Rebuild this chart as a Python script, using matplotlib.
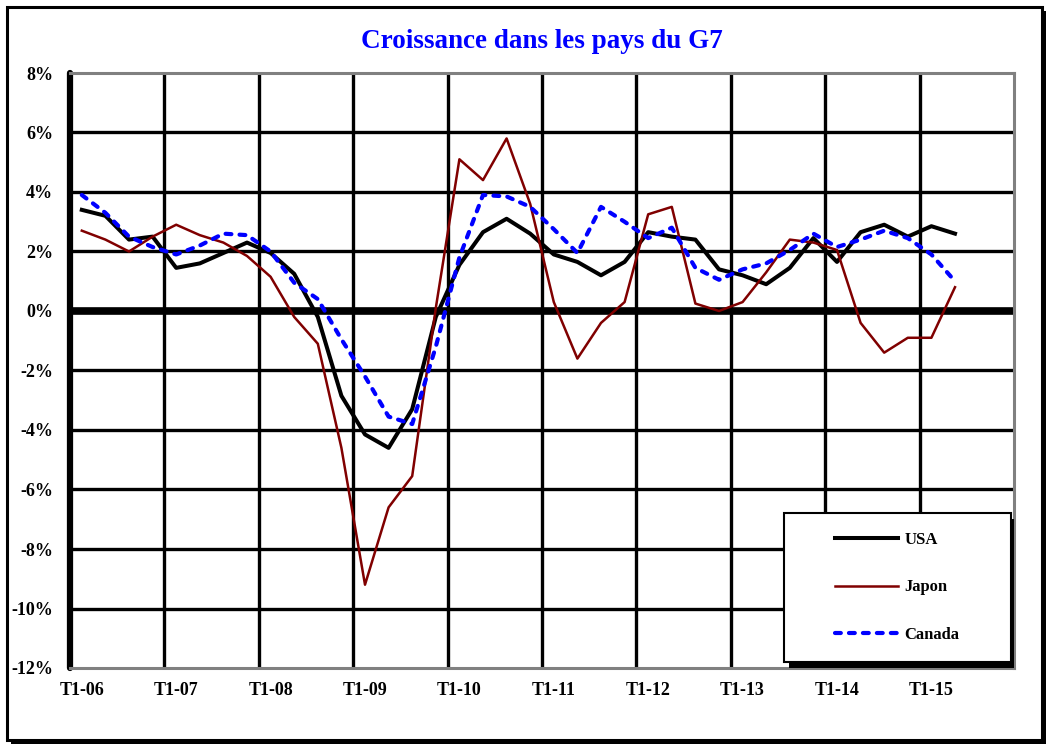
import matplotlib
matplotlib.use("Agg")
import matplotlib.pyplot as plt
import matplotlib.patches as mpatches
import matplotlib.patheffects as pe
from matplotlib.ticker import FuncFormatter

# Quarterly year-on-year growth, T1-06 .. T2-15 (%)
quarters = [f"T{q}-{y:02d}" for y in range(6, 16) for q in range(1, 5)][:38]
usa = [3.4, 3.2, 2.4, 2.5, 1.45, 1.6, 1.95, 2.3, 1.95, 1.25,
       -0.2, -2.85, -4.15, -4.6, -3.3, -0.2, 1.55, 2.65, 3.1, 2.6,
       1.9, 1.65, 1.2, 1.65, 2.65, 2.5, 2.4, 1.4, 1.2, 0.9,
       1.45, 2.45, 1.65, 2.65, 2.9, 2.5, 2.85, 2.6]
japon = [2.7, 2.4, 2.0, 2.5, 2.9, 2.55, 2.3, 1.85, 1.15, -0.2,
         -1.1, -4.6, -9.2, -6.6, -5.55, 0.1, 5.1, 4.4, 5.8, 3.6,
         0.3, -1.6, -0.4, 0.3, 3.25, 3.5, 0.25, 0.0, 0.3, 1.3,
         2.4, 2.3, 2.05, -0.4, -1.4, -0.9, -0.9, 0.8]
canada = [3.9, 3.3, 2.5, 2.15, 1.9, 2.2, 2.6, 2.55, 2.0, 0.95,
          0.4, -0.95, -2.2, -3.55, -3.8, -1.2, 1.8, 3.9, 3.85, 3.5,
          2.75, 1.95, 3.5, 3.0, 2.45, 2.8, 1.45, 1.05, 1.4, 1.6,
          2.05, 2.6, 2.15, 2.4, 2.7, 2.45, 1.9, 1.0]

n_cat = 40  # axis runs to T1-16
y_ticks = list(range(-12, 9, 2))
x_labels = [f"T1-{y:02d}" for y in range(6, 16)]

plt.rcParams['font.family'] = ['Liberation Serif', 'DejaVu Serif']
plt.rcParams['font.weight'] = 'bold'

fig = plt.figure(figsize=(10.52, 7.47), dpi=100)
ax = fig.add_axes([70 / 1052, 1 - 668 / 747, 944 / 1052, 595 / 747])

# outer frame with shadow
frame = mpatches.Rectangle((7 / 1052, 7 / 747), 1035 / 1052, 733 / 747,
                           transform=fig.transFigure, facecolor='white',
                           edgecolor='black', lw=2.2, zorder=-1)
frame.set_path_effects([pe.SimplePatchShadow(offset=(3, -3), shadow_rgbFace='black', alpha=1),
                        pe.Normal()])
fig.patches.append(frame)

x = list(range(len(quarters)))

# grid
for v in y_ticks[1:-1]:
    if v != 0:
        ax.axhline(v, color='black', lw=2.4, zorder=1)
for k in range(4, n_cat, 4):
    ax.axvline(k - 0.5, color='black', lw=2.4, zorder=1)
ax.axhline(0, color='black', lw=5.5, zorder=2, solid_capstyle='round')

ax.plot(x, usa, color='black', lw=2.9, label='USA', zorder=4)
ax.plot(x, japon, color='#800000', lw=1.8, label='Japon', zorder=4)
ax.plot(x, canada, color='#0000FF', lw=3.0, label='Canada', zorder=4,
        linestyle=(0, (1.4, 1.95)), dash_capstyle='round')

ax.set_xlim(-0.5, n_cat - 0.5)
ax.set_ylim(-12, 8)
ax.set_xticks(range(0, 37, 4))
ax.set_xticklabels(x_labels)
ax.set_yticks(y_ticks)
ax.yaxis.set_major_formatter(FuncFormatter(lambda v, p: f"{int(v)}%"))
ax.tick_params(axis='x', length=0, pad=10, labelsize=13)
ax.tick_params(axis='y', length=0, pad=12, labelsize=13)

for side in ['top', 'right', 'bottom']:
    ax.spines[side].set_color('#808080')
    ax.spines[side].set_linewidth(2.2)
ax.spines['left'].set_color('black')
ax.spines['left'].set_linewidth(4.5)
ax.spines['left'].set_capstyle('round')

ax.set_title('Croissance dans les pays du G7', color='#0000FF',
             fontsize=19.5, fontweight='bold', pad=18)

# legend box with shadow
box = mpatches.Rectangle((0.7564, 0.0101), 0.2405, 0.2504, transform=ax.transAxes,
                         facecolor='white', edgecolor='black', lw=1.5, zorder=5)
box.set_path_effects([pe.SimplePatchShadow(offset=(3.5, -4), shadow_rgbFace='black', alpha=1),
                      pe.Normal()])
ax.add_patch(box)
leg = ax.legend(loc='center', bbox_to_anchor=(0.8766, 0.1353), frameon=False,
                fontsize=12, labelspacing=1.9, handlelength=3.75, handletextpad=0.4)
leg.set_zorder(6)

fig.savefig('out.png', dpi=100)
